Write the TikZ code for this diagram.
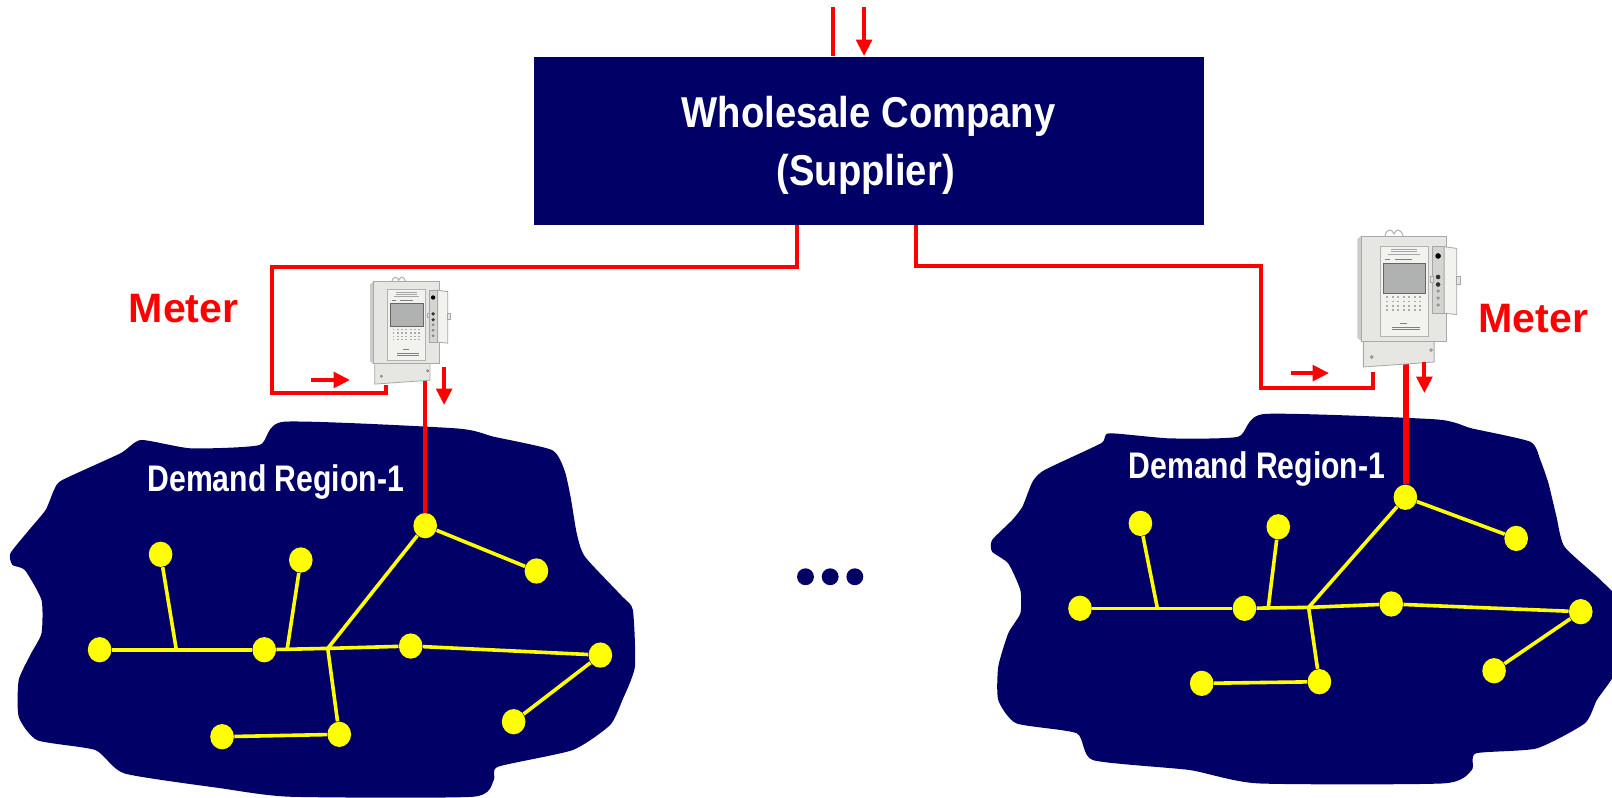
\documentclass[tikz,border=0pt]{standalone}
\usepackage{fontspec}
\setmainfont{Liberation Sans}
\newfontfamily\wsfont[FakeStretch=0.885]{Liberation Sans}
\newfontfamily\rgfont[FakeStretch=0.815]{Liberation Sans}
\usetikzlibrary{arrows.meta,shapes.geometric}

\definecolor{navy}{RGB}{0,0,102}
\definecolor{wire}{RGB}{255,0,0}
\definecolor{bus}{RGB}{255,255,0}
\definecolor{meterbody}{RGB}{230,231,226}
\definecolor{meterplate}{RGB}{242,242,238}
\definecolor{meteredge}{RGB}{168,170,166}
\definecolor{meterscreen}{RGB}{176,178,178}
\definecolor{meterside}{RGB}{204,205,201}

\tikzset{
  wsbox/.style={fill=navy, minimum width=326pt, minimum height=82pt, inner sep=0pt},
  wstext/.style={text=white, font=\wsfont\bfseries\fontsize{21}{25}\selectfont, anchor=base, inner sep=0pt},
  rgtext/.style={text=white, font=\rgfont\bfseries\fontsize{18}{22}\selectfont, anchor=base, inner sep=0pt},
  mtext/.style={text=wire, font=\bfseries\fontsize{20}{24}\selectfont, anchor=base, inner sep=0pt},
  feeder/.style={draw=wire, line width=2pt},
  flow/.style={draw=wire, line width=2pt, -{Triangle[length=8pt,width=7.5pt]}},
  hub/.style={ellipse, fill=bus, minimum width=11.5pt, minimum height=12.3pt, inner sep=0pt},
  busline/.style={draw=bus, line width=1.75pt},
  dot/.style={circle, fill=navy, minimum size=8.2pt, inner sep=0pt},
  % electricity meter with open side door, drawn in local pixel units
  meter/.pic={
    % hanging wire on top
    \draw[gray!60, line width=0.5pt] (35,10) .. controls (36,3) and (42,2) .. (44,8)
      .. controls (46,2) and (51,3) .. (53,10);
    % terminal cover
    \draw[fill=meterbody, draw=meteredge, line width=0.4pt]
      (13.3,108) -- (84,108) -- (84,136) -- (13.3,141) -- cycle;
    \draw[fill=gray!45, draw=gray, line width=0.3pt] (21.7,131) circle (1.4) (81,124) circle (1.4);
    % casing
    \fill[meterside] (7.3,13) -- (11,10) -- (11,115) -- (7.3,112) -- cycle;
    \draw[fill=meterbody, draw=meteredge, line width=0.4pt] (11,10) rectangle (96.7,115);
    % name plate
    \draw[fill=meterplate, draw=gray!60, line width=0.4pt] (30,20) rectangle (78.3,110);
    \foreach \yy/\ww in {23/13, 25.5/13, 28.5/16}
      \draw[gray!70, line width=0.3pt] (54-\ww,\yy) -- (54+\ww,\yy);
    \draw[gray, line width=0.3pt] (35,33) -- (40,33) (45,33) -- (62,33);
    % display
    \draw[fill=meterscreen, draw=gray!80!black, line width=0.4pt] (33,37.5) rectangle (75,67);
    % keypad
    \foreach \r in {0,...,3}
      \foreach \c in {0,...,6}
        \fill[gray!65] (36+\c*5.5,70.5+\r*4.3) rectangle ++(2.4,1.7);
    % rating text
    \draw[gray, line width=0.3pt] (50,97) -- (57,97) (42,101) -- (70,101) (42,103.5) -- (70,103.5);
    % control strip
    \draw[fill=meterbody!92!black, draw=gray!70, line width=0.4pt] (82.7,20.7) rectangle (94,87.3);
    \fill[black] (88,30) circle (2.8);
    \fill[black!80] (88,51) circle (2.3) (88,58.5) circle (2.3);
    \draw[gray, line width=0.3pt] (88,65) circle (1.3) (88,72) circle (1.3) (88,79) circle (1.3);
    \draw[fill=meterbody, draw=gray!70, line width=0.3pt] (80,50) rectangle (83,56);
    % open door
    \draw[fill=meterplate, draw=gray!70, line width=0.4pt]
      (94,20.7) -- (106.7,22.5) -- (106.7,88.5) -- (94,87.3) -- cycle;
    \draw[fill=meterbody, draw=gray!70, line width=0.3pt] (106.7,50) rectangle (110,58);
  }
}

\begin{document}
\begin{tikzpicture}[x=0.5pt,y=-0.5pt]
\useasboundingbox (0,0) rectangle (1568,776);

% ---------- demand regions ----------
\fill[navy] plot[smooth cycle, tension=0.35] coordinates {
  (276.4,410.2) (444,416.7) (480.3,424.8) (536.8,437.7) (549,457.2) (555,483.2)
  (561,518.8) (569,541.5) (605.4,580.4) (615.6,593.4) (617.6,648.5) (605.4,681)
  (593.4,705.3) (557,729.6) (484.4,745.8) (480.3,758.8) (460,775) (282.6,775)
  (214,766.6) (121,752.3) (92.8,729.6) (36.3,720) (18.2,697.2) (18.2,661.5)
  (30.3,635.5) (40.4,616) (40.4,583.7) (24.2,554.5) (12.1,549.6) (10.1,538.2)
  (28.2,515.6) (44.4,496) (52.5,476.7) (60.5,467) (117,441) (137.2,428)
  (185.7,436.1) (252.3,432.9)};
\fill[navy] plot[smooth cycle, tension=0.35] coordinates {
  (1229.8,402.7) (1396.4,407.9) (1431.6,416.7) (1488.5,429.7) (1498.3,447.5)
  (1506.2,470.2) (1514,502.6) (1521.8,531.8) (1557,564.2) (1580,590) (1582,630)
  (1568,660) (1553.2,681) (1541.5,703.6) (1494.5,728) (1435.6,732.8) (1431.6,749)
  (1404.2,762) (1223.7,762) (1157.2,749) (1063,739.3) (1047.4,713.3) (988.6,703.6)
  (971,681) (971,648.5) (980.7,616) (992.5,596.6) (992.5,574) (980.7,548)
  (965,536.6) (965,525.3) (984.6,505.8) (994.5,492.9) (1004.3,468.6) (1016,457.2)
  (1070.9,431.2) (1078.8,421.5) (1137.5,426.4) (1204.3,424.8)};

\node[rgtext] (rg1) at (268.3,478.3) {Demand Region-1};
\node[rgtext] (rg2) at (1222.6,465.3) {Demand Region-1};

% ---------- supplier ----------
\node[wsbox] (ws) at (845,137) {};
\node[wstext] (wsname) at (845,124.5) {Wholesale Company};
\node[wstext] (wsrole) at (842,180.5) {(Supplier)};

\coordinate (inA) at (810.3,6.8);
\coordinate (inB) at (840.5,6.8);
\draw[feeder] (inA) -- (inA |- ws.north);
\draw[flow] (inB) -- (inB |- ws.north);

% ---------- feeders to the meters ----------
\coordinate (wsL) at (775,219);
\coordinate (bendL1) at (264.3,259.4);
\coordinate (mLin) at (375.5,382.3);
\coordinate (mLtop) at (375.5,374.5);
\draw[feeder] (wsL) |- (bendL1) |- (mLin) -- (mLtop);

\coordinate (wsR) at (891,219);
\coordinate (bendR1) at (1226.6,258.5);
\coordinate (mRin) at (1335.8,377);
\coordinate (mRtop) at (1335.8,361.5);
\draw[feeder] (wsR) |- (bendR1) |- (mRin) -- (mRtop);

% ---------- left network ----------
\node[hub] (a1) at (413.6,511.3) {};
\node[hub] (b1) at (521.8,555.4) {};
\node[hub] (c1) at (156.2,539.2) {};
\node[hub] (d1) at (292.6,544.7) {};
\node[hub] (e1) at (96.9,632) {};
\node[hub] (f1) at (257,632) {};
\node[hub] (g1) at (399.5,628.4) {};
\node[hub] (h1) at (584,637.2) {};
\node[hub] (i1) at (499.6,702) {};
\node[hub] (l1) at (330,714.3) {};
\node[hub] (m1) at (216,716.6) {};
\coordinate (j1a) at (171.5,632);
\coordinate (j1b) at (279.3,631.6);
\coordinate (k1) at (318.8,630.7);
\draw[busline] (e1) -- (f1);
\draw[busline] (c1) -- (j1a);
\draw[busline] (f1) -- (k1);
\draw[busline] (d1) -- (j1b);
\draw[busline] (k1) -- (g1);
\draw[busline] (g1) -- (h1);
\draw[busline] (k1) -- (a1);
\draw[busline] (a1) -- (b1);
\draw[busline] (k1) -- (l1);
\draw[busline] (l1) -- (m1);
\draw[busline] (h1) -- (i1);

% ---------- right network ----------
\node[hub] (a2) at (1367,483.7) {};
\node[hub] (b2) at (1474.8,523.7) {};
\node[hub] (c2) at (1109.3,509.1) {};
\node[hub] (d2) at (1243.4,512.4) {};
\node[hub] (e2) at (1050.5,591.7) {};
\node[hub] (f2) at (1210.5,591.7) {};
\node[hub] (g2) at (1353.3,587.5) {};
\node[hub] (h2) at (1537.6,595) {};
\node[hub] (i2) at (1453.3,652.4) {};
\node[hub] (l2) at (1283.4,663.1) {};
\node[hub] (m2) at (1168.9,664.7) {};
\coordinate (j2a) at (1125.8,591.7);
\coordinate (j2b) at (1233.6,591.4);
\coordinate (k2) at (1272.9,590.8);
\draw[busline] (e2) -- (f2);
\draw[busline] (c2) -- (j2a);
\draw[busline] (f2) -- (k2);
\draw[busline] (d2) -- (j2b);
\draw[busline] (k2) -- (g2);
\draw[busline] (g2) -- (h2);
\draw[busline] (k2) -- (a2);
\draw[busline] (a2) -- (b2);
\draw[busline] (k2) -- (l2);
\draw[busline] (l2) -- (m2);
\draw[busline] (h2) -- (i2);

% ---------- meter outputs into the regions ----------
\coordinate (mLout) at (413.4,364);
\draw[feeder] (mLout) -- (mLout |- a1.north);
\coordinate (mRout) at (1367.2,351.8);
\draw[feeder, line width=2.9pt] (mRout) -- (mRout |- a2.north);

% ---------- meters ----------
\pic[scale=0.759] (mL) at (354.5,266.6) {meter};
\pic[scale=0.973] (mR) at (1313.2,219.8) {meter};

\node[mtext] (lblL) at (178.7,313.9) {Meter};
\node[mtext] (lblR) at (1491.6,323.6) {Meter};

% ---------- direction of flow ----------
\coordinate (fL1) at (302.5,369.6);
\coordinate (fL2) at (340.5,369.6);
\draw[flow] (fL1) -- (fL2);
\coordinate (dL1) at (432,357);
\coordinate (dL2) at (432,394);
\draw[flow] (dL1) -- (dL2);
\coordinate (fR1) at (1255.5,362.9);
\coordinate (fR2) at (1292.8,362.9);
\draw[flow] (fR1) -- (fR2);
\coordinate (dR1) at (1385.5,351.8);
\coordinate (dR2) at (1385.5,382.4);
\draw[flow] (dR1) -- (dR2);

% ---------- more regions ----------
\node[dot] (more1) at (783.5,561) {};
\node[dot] (more2) at (807.5,561) {};
\node[dot] (more3) at (831.5,561) {};
\end{tikzpicture}
\end{document}
